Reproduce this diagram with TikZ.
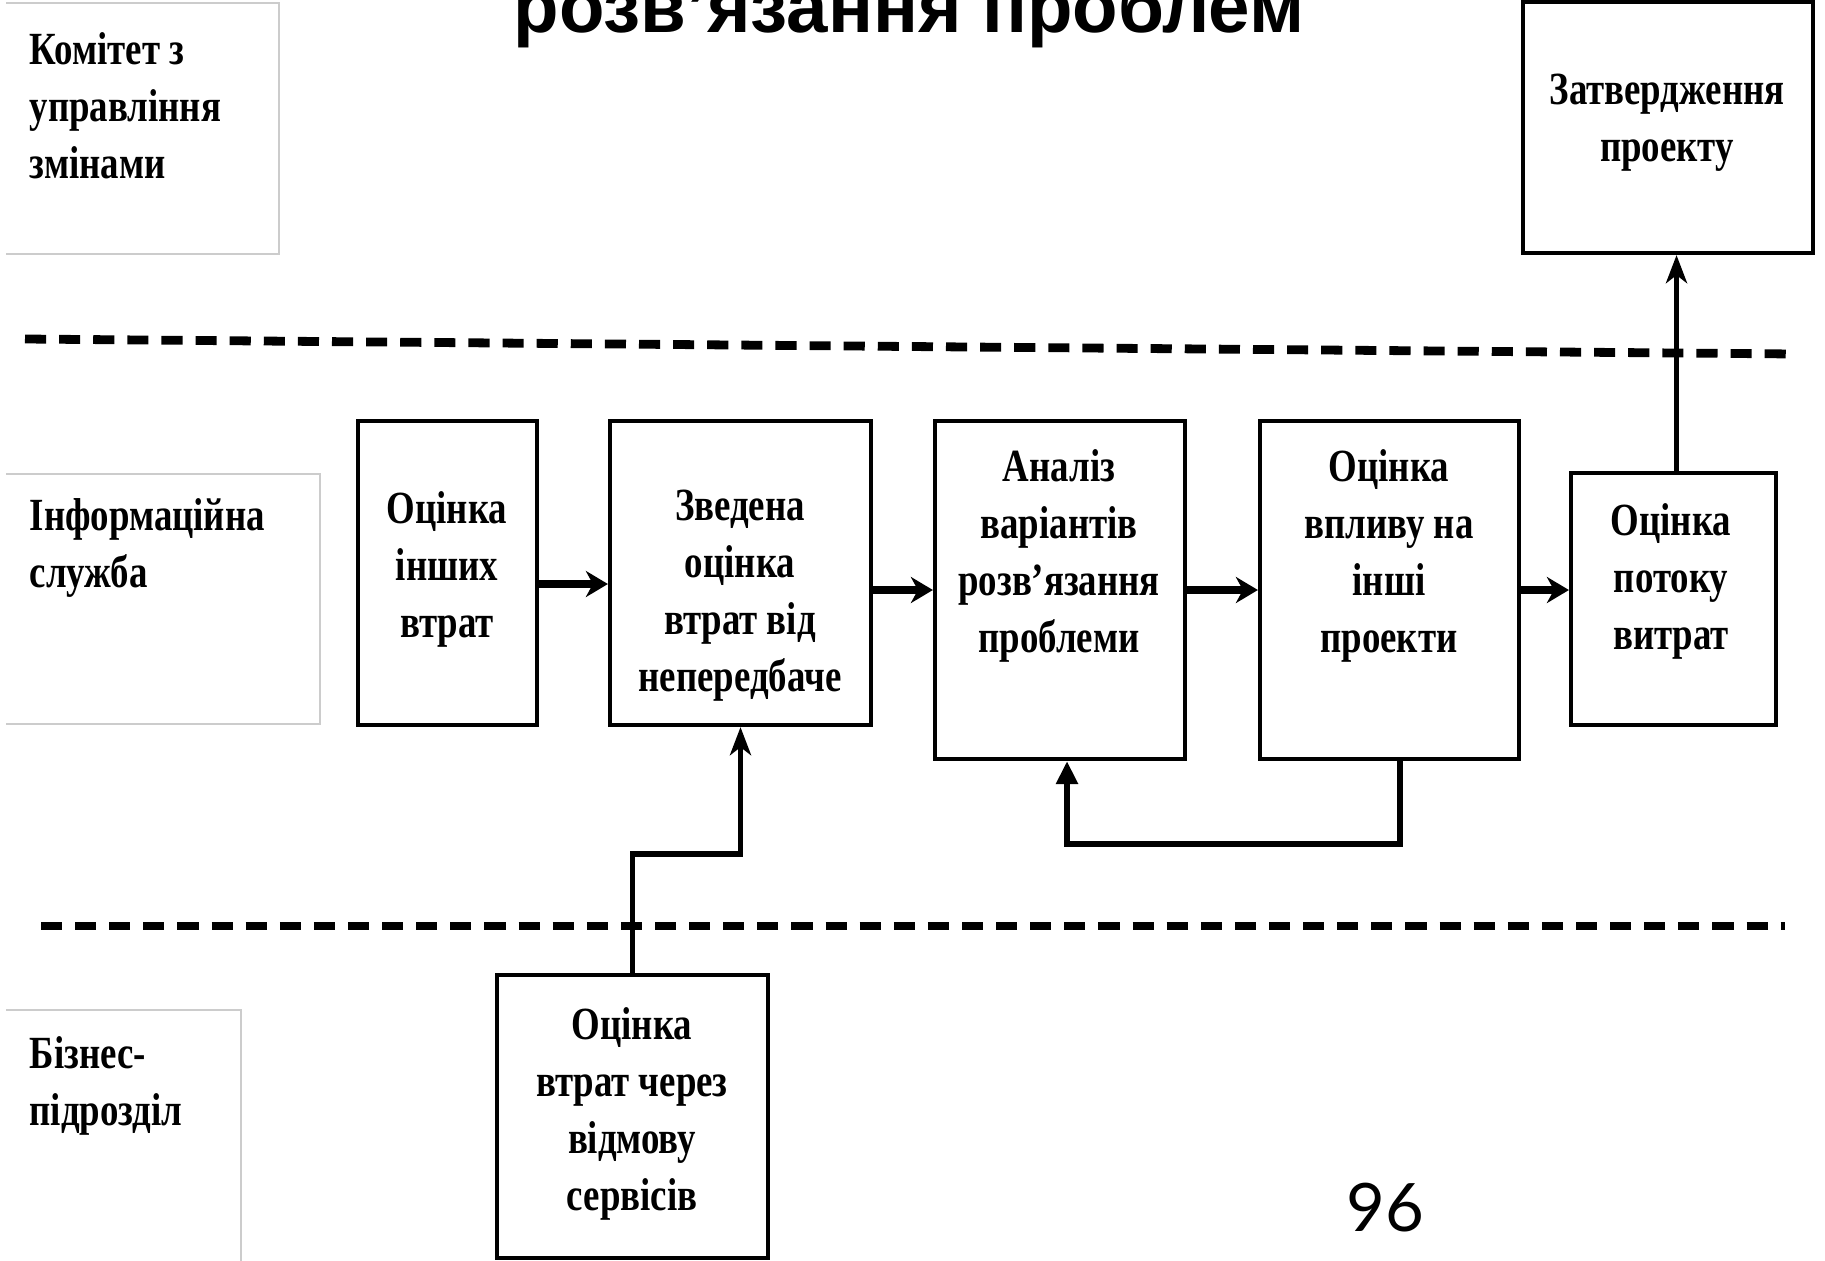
\documentclass[tikz,border=0pt]{standalone}
\usepackage{fontspec}
\usepackage{graphicx}
\usetikzlibrary{arrows.meta,calc}
\newfontfamily\tnr[FakeStretch=0.8]{Liberation Serif}
\newfontfamily\titlefont{Liberation Sans}
\newfontfamily\numfont{Lato}
\tikzset{
  box/.style={draw, line width=1.15pt, rectangle, inner sep=0pt},
  txt/.style={align=center, inner sep=0pt, font=\tnr\bfseries\fontsize{13.1pt}{16.2pt}\selectfont},
  lbl/.style={align=left, anchor=west, inner sep=0pt, font=\tnr\bfseries\fontsize{13.1pt}{16.2pt}\selectfont},
  harrow/.style={line width=2.2pt, -{Stealth[length=0.22cm,width=0.26cm,inset=0.07cm]}},
  varrow/.style={line width=1.6pt, line join=miter, -{Stealth[length=0.28cm,width=0.21cm,inset=0.08cm]}},
  fbarrow/.style={line width=1.7pt, line join=miter, -{Triangle[length=0.23cm,width=0.21cm]}},
  frame/.style={draw=gray!40, line width=0.6pt},
  sepline/.style={line width=2.5pt, dash pattern=on 6pt off 3.7pt}
}
\begin{document}
\begin{tikzpicture}[x=0.01cm,y=-0.01cm]
\useasboundingbox (0,0) rectangle (1825,1260);
\clip (0,0) rectangle (1825,1260);
\fill[white] (0,0) rectangle (1825,1260);

% title (cut at top)
\node[anchor=base, inner sep=0pt] (title) at (909,32) {\resizebox{7.9cm}{!}{\titlefont\bfseries розв’язання проблем}};

% lane label frames
\draw[frame] (6,3) -- (279,3) -- (279,254) -- (6,254);
\draw[frame] (6,474) -- (320,474) -- (320,724) -- (6,724);
\draw[frame] (6,1010) -- (241,1010) -- (241,1265);

% lane labels
\node[lbl] (L1) at (29,106) {Комітет з\\управління\\змінами};
\node[lbl] (L2) at (29,548) {Інформаційна\\служба};
\node[lbl] (L3) at (29,1086) {Бізнес-\\підрозділ};

% separators
\draw[sepline] (25,339) -- (1795,354);
\draw[sepline] (41,926) -- (1785,926);

% boxes
\node[box, minimum width=1.79cm, minimum height=3.04cm] (A) at (447.5,573) {};
\node[box, minimum width=2.61cm, minimum height=3.04cm] (B) at (740.5,573) {};
\node[box, minimum width=2.50cm, minimum height=3.38cm] (C) at (1060,590) {};
\node[box, minimum width=2.59cm, minimum height=3.38cm] (D) at (1389.5,590) {};
\node[box, minimum width=2.05cm, minimum height=2.52cm] (E) at (1673.5,599) {};
\node[box, minimum width=2.90cm, minimum height=2.51cm] (F) at (1668,127.5) {};
\node[box, minimum width=2.71cm, minimum height=2.83cm] (G) at (632.5,1116.5) {};

% box texts
\node[txt] (At) at (447,569) {Оцінка\\інших\\втрат};
\node[txt] (Bt) at (740,596) {Зведена\\оцінка\\втрат від\\непередбаче};
\node[txt] (Ct) at (1059,556) {Аналіз\\варіантів\\розв’язання\\проблеми};
\node[txt] (Dt) at (1389,556) {Оцінка\\впливу на\\інші\\проекти};
\node[txt] (Et) at (1671,581) {Оцінка\\потоку\\витрат};
\node[txt] (Ft) at (1667,123) {Затвердження\\проекту};
\node[txt] (Gt) at (632,1114) {Оцінка\\втрат через\\відмову\\сервісів};

% connectors
\draw[harrow] ([yshift=-0.11cm]A.east) -- ([yshift=-0.11cm]B.west);
\draw[harrow] (B.east |- C.west) -- (C.west);
\draw[harrow] (C.east) -- (D.west);
\draw[harrow] (D.east) -- (D.east -| E.west);
\draw[varrow] ([xshift=0.03cm]E.north) -- ([xshift=0.03cm]E.north |- F.south);
\draw[varrow] (G.north) |- ([yshift=-1.27cm]B.south) -- (B.south);
\draw[fbarrow] ([xshift=0.1cm]D.south) |- ([xshift=0.07cm,yshift=-0.83cm]C.south) -- ([xshift=0.07cm]C.south);

% page number
\node[inner sep=0pt, font=\numfont\fontsize{19pt}{19pt}\selectfont] (num) at (1385,1208) {96};
\end{tikzpicture}
\end{document}
